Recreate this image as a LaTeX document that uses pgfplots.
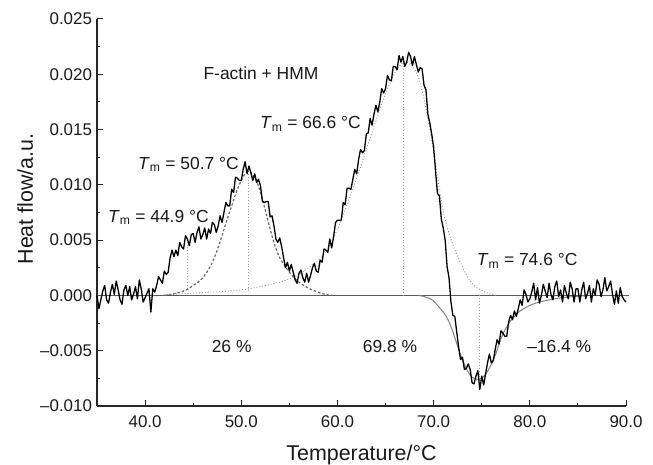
\documentclass[border=0pt]{standalone}
\usepackage{fontspec}
\setmainfont{Liberation Sans}
\usepackage{pgfplots}
\usepackage{pgfplotstable}
\pgfplotsset{compat=1.18}
% heat flow in units of 1e-3
\pgfplotstableread{
x y
35.0 0.0
35.2 -1.2
35.4 -0.4
35.6 0.4
35.8 0.9
36.0 -0.4
36.2 -0.7
36.4 0.3
36.6 1.0
36.8 0.1
37.0 1.3
37.2 0.5
37.4 -0.4
37.6 -0.8
37.8 0.5
38.0 0.9
38.2 0.0
38.4 0.8
38.6 -0.4
38.8 0.1
39.0 0.8
39.2 -0.3
39.4 1.4
39.6 0.6
39.8 -0.6
40.0 -0.2
40.2 0.2
40.4 0.6
40.6 -1.5
40.8 0.6
41.0 0.3
41.2 0.9
41.4 1.7
41.6 1.4
41.8 1.1
42.0 2.2
42.2 1.9
42.4 2.1
42.6 3.4
42.8 4.1
43.0 3.5
43.2 4.1
43.4 3.6
43.6 4.8
43.8 4.4
44.0 4.2
44.2 5.4
44.4 5.1
44.6 4.5
44.8 5.5
45.0 5.6
45.2 4.8
45.4 5.7
45.6 6.2
45.8 5.1
46.0 5.5
46.2 6.1
46.4 5.1
46.6 6.0
46.8 5.6
47.0 6.6
47.2 6.4
47.4 5.7
47.6 6.3
47.8 7.2
48.0 6.6
48.2 7.5
48.4 8.4
48.6 8.1
48.8 8.1
49.0 9.6
49.2 9.3
49.4 10.7
49.6 10.6
49.8 10.4
50.0 10.4
50.2 11.4
50.4 12.1
50.6 11.0
50.8 11.7
51.0 11.1
51.2 10.4
51.4 11.0
51.6 10.2
51.8 10.5
52.0 9.9
52.2 8.5
52.4 8.4
52.6 8.5
52.8 8.5
53.0 7.1
53.2 7.2
53.4 6.3
53.6 5.1
53.8 4.8
54.0 5.2
54.2 4.4
54.4 3.4
54.6 2.5
54.8 3.0
55.0 2.2
55.2 2.8
55.4 2.1
55.6 1.4
55.8 1.1
56.0 2.0
56.2 2.3
56.4 1.6
56.6 1.2
56.8 2.0
57.0 1.2
57.2 1.8
57.4 2.5
57.6 2.9
57.8 2.2
58.0 2.1
58.2 3.2
58.4 3.0
58.6 4.2
58.8 4.1
59.0 3.9
59.2 5.1
59.4 4.3
59.6 5.3
59.8 6.6
60.0 6.8
60.2 6.8
60.4 6.8
60.6 8.4
60.8 8.2
61.0 9.7
61.2 9.7
61.4 9.6
61.6 10.5
61.8 11.4
62.0 11.0
62.2 12.3
62.4 13.2
62.6 12.9
62.8 13.1
63.0 14.6
63.2 14.7
63.4 16.0
63.6 15.4
63.8 16.4
64.0 17.2
64.2 16.6
64.4 17.5
64.6 18.7
64.8 18.3
65.0 18.7
65.2 19.9
65.4 19.5
65.6 19.4
65.8 20.7
66.0 20.7
66.2 20.4
66.4 21.7
66.6 21.1
66.8 21.6
67.0 20.7
67.2 21.1
67.4 22.0
67.6 21.6
67.8 20.8
68.0 21.6
68.2 20.9
68.4 20.2
68.6 20.6
68.8 20.5
69.0 19.0
69.2 18.6
69.4 16.4
69.6 15.6
69.8 14.6
70.0 13.4
70.2 11.2
70.4 9.2
70.6 9.0
70.8 6.9
71.0 6.1
71.2 5.0
71.4 2.6
71.6 1.6
71.8 -0.6
72.0 -1.8
72.2 -1.9
72.4 -3.3
72.6 -4.7
72.8 -5.8
73.0 -5.6
73.2 -6.7
73.4 -6.6
73.6 -6.2
73.8 -6.7
74.0 -7.9
74.2 -8.0
74.4 -7.3
74.6 -6.8
74.8 -8.5
75.0 -7.3
75.2 -8.1
75.4 -7.1
75.6 -6.1
75.8 -5.3
76.0 -6.1
76.2 -5.9
76.4 -4.9
76.6 -4.0
76.8 -4.4
77.0 -3.2
77.2 -3.4
77.4 -3.7
77.6 -3.7
77.8 -2.4
78.0 -1.8
78.2 -2.2
78.4 -1.4
78.6 -1.9
78.8 -1.2
79.0 -0.4
79.2 -0.9
79.4 0.5
79.6 0.1
79.8 -0.6
80.0 -0.3
80.2 0.3
80.4 1.1
80.6 -0.4
80.8 0.7
81.0 -0.7
81.2 0.0
81.4 1.0
81.6 0.4
81.8 -0.2
82.0 1.1
82.2 0.1
82.4 -0.4
82.6 0.8
82.8 1.3
83.0 -0.1
83.2 0.5
83.4 -0.6
83.6 0.9
83.8 0.2
84.0 -0.3
84.2 1.2
84.4 0.6
84.6 -0.6
84.8 0.6
85.0 0.6
85.2 -0.6
85.4 0.5
85.6 1.2
85.8 -0.3
86.0 0.2
86.2 0.9
86.4 -0.6
86.6 0.6
86.8 0.0
87.0 1.4
87.2 1.0
87.4 -0.1
87.6 0.5
87.8 1.6
88.0 0.4
88.2 0.8
88.4 1.3
88.6 0.1
88.8 -0.8
89.0 0.4
89.2 -0.7
89.4 0.7
89.6 -0.1
89.8 -0.4
90.0 -0.6
}\maindata
% component at 50.7 (dashed)
\pgfplotstableread{
x y
42.0 0.0
43.0 0.15
44.0 0.4
44.5 0.6
45.0 0.9
45.5 1.2
46.0 1.6
46.5 2.2
47.0 3.0
47.5 4.1
48.0 5.4
48.5 6.8
49.0 8.1
49.5 9.4
50.0 10.4
50.4 11.0
50.7 11.2
51.0 11.1
51.5 10.5
52.0 9.3
52.5 7.7
53.0 6.0
53.5 4.5
54.0 3.4
54.5 2.7
55.0 2.1
55.5 1.6
56.0 1.2
56.5 0.9
57.0 0.65
57.5 0.45
58.0 0.3
58.5 0.15
59.0 0.05
59.5 0.0
}\compA
% component at 66.6 (dotted)
\pgfplotstableread{
x y
42.0 0.05
45.0 0.2
48.0 0.35
50.0 0.5
52.0 0.8
54.0 1.2
55.0 1.5
56.0 1.9
57.0 2.5
58.0 3.2
59.0 4.2
60.0 6.0
61.0 8.2
62.0 10.6
63.0 13.2
64.0 15.8
65.0 18.2
66.0 20.2
66.6 20.9
67.0 21.1
67.5 21.0
68.0 20.5
68.5 19.5
69.0 17.8
69.5 15.5
70.0 13.0
70.5 10.2
71.0 7.6
71.5 5.9
72.0 4.6
72.5 3.5
73.0 2.6
73.5 1.7
74.0 1.1
74.5 0.7
75.0 0.45
75.5 0.25
76.0 0.1
76.5 0.0
}\compB
% exothermic component at 74.6 (solid gray)
\pgfplotstableread{
x y
68.5 0.0
69.0 -0.1
69.5 -0.25
70.0 -0.5
70.5 -1.0
71.0 -1.5
71.5 -2.2
72.0 -3.3
72.5 -4.6
73.0 -5.8
73.5 -6.8
74.0 -7.4
74.6 -7.6
75.0 -7.5
75.5 -7.0
76.0 -6.2
76.5 -5.2
77.0 -3.9
77.5 -3.0
78.0 -2.3
78.5 -1.8
79.0 -1.4
80.0 -0.9
81.0 -0.6
82.0 -0.4
83.0 -0.25
84.0 -0.15
85.0 -0.08
86.0 0.0
}\compC
\begin{document}
\begin{tikzpicture}
\path[use as bounding box] (-97bp,-59bp) rectangle (556bp,406bp);
\begin{axis}[
  at={(0,0)}, anchor=south west,
  width=529bp, height=387bp, scale only axis,
  xmin=35, xmax=90, ymin=-10, ymax=25,
  axis lines*=left,
  axis line style={line width=1.3bp, color=black!85},
  tick align=inside,
  major tick length=6bp, minor tick length=3bp,
  every tick/.style={line width=1bp, black!85},
  xtick={40,50,60,70,80,90},
  xticklabels={40.0,50.0,60.0,70.0,80.0,90.0},
  minor xtick={45,55,65,75,85},
  ytick={-10,-5,0,5,10,15,20,25},
  yticklabels={–0.010,–0.005,0.000,0.005,0.010,0.015,0.020,0.025},
  minor ytick={-7.5,-2.5,2.5,7.5,12.5,17.5,22.5},
  tick label style={font=\fontsize{17}{19}\selectfont, black!90},
  xticklabel style={yshift=-6.5bp},
  yticklabel style={xshift=-1.5bp},
  xlabel={Temperature/°C}, ylabel={Heat flow/a.u.},
  label style={font=\fontsize{21.5}{24}\selectfont, black!90},
  xlabel style={at={(axis description cs:0.5,0)}, anchor=base, yshift=-54bp},
  ylabel style={at={(axis description cs:-0.121,0.535)}, anchor=base},
  clip=false,
]
\addplot[black!65, line width=1.4bp] coordinates {(35,0) (90.3,0)};
\addplot[black!40, dotted, line width=0.9bp] coordinates {(44.45,0.6) (44.45,4.8)};
\addplot[black!40, dotted, line width=0.9bp] coordinates {(50.7,0.45) (50.7,11.3)};
\addplot[black!40, dotted, line width=0.9bp] coordinates {(66.85,0) (66.85,21.2)};
\addplot[black!40, dotted, line width=0.9bp] coordinates {(74.75,0) (74.75,-7.7)};
\addplot[black!45, dotted, line width=0.9bp, smooth] table[x=x,y=y] {\compB};
\addplot[black!60, dashed, dash pattern=on 2.5bp off 2bp, line width=1.2bp, smooth] table[x=x,y=y] {\compA};
\addplot[black!50, line width=1bp, smooth] table[x=x,y=y] {\compC};
\addplot[black, line width=1.3bp, line join=round] table[x=x,y=y] {\maindata};
\begin{scope}[every node/.style={font=\fontsize{17.5}{20}\selectfont, black!90, inner sep=0pt}]
\node[anchor=center] at (axis cs:52.05,20.1) {F-actin + HMM};
\node[anchor=base west] at (axis cs:51.94,15.07) {\textit{T}\textsubscript{m} = 66.6 °C};
\node[anchor=base west] at (axis cs:39.26,11.4) {\textit{T}\textsubscript{m} = 50.7 °C};
\node[anchor=base west] at (axis cs:36.14,6.63) {\textit{T}\textsubscript{m} = 44.9 °C};
\node[anchor=base west] at (axis cs:74.47,2.71) {\textit{T}\textsubscript{m} = 74.6 °C};
\node[anchor=base] at (axis cs:49.0,-5.15) {26 \%};
\node[anchor=base] at (axis cs:65.46,-5.13) {69.8 \%};
\node[anchor=base] at (axis cs:83.06,-5.13) {–16.4 \%};
\end{scope}
\end{axis}
\end{tikzpicture}
\end{document}
